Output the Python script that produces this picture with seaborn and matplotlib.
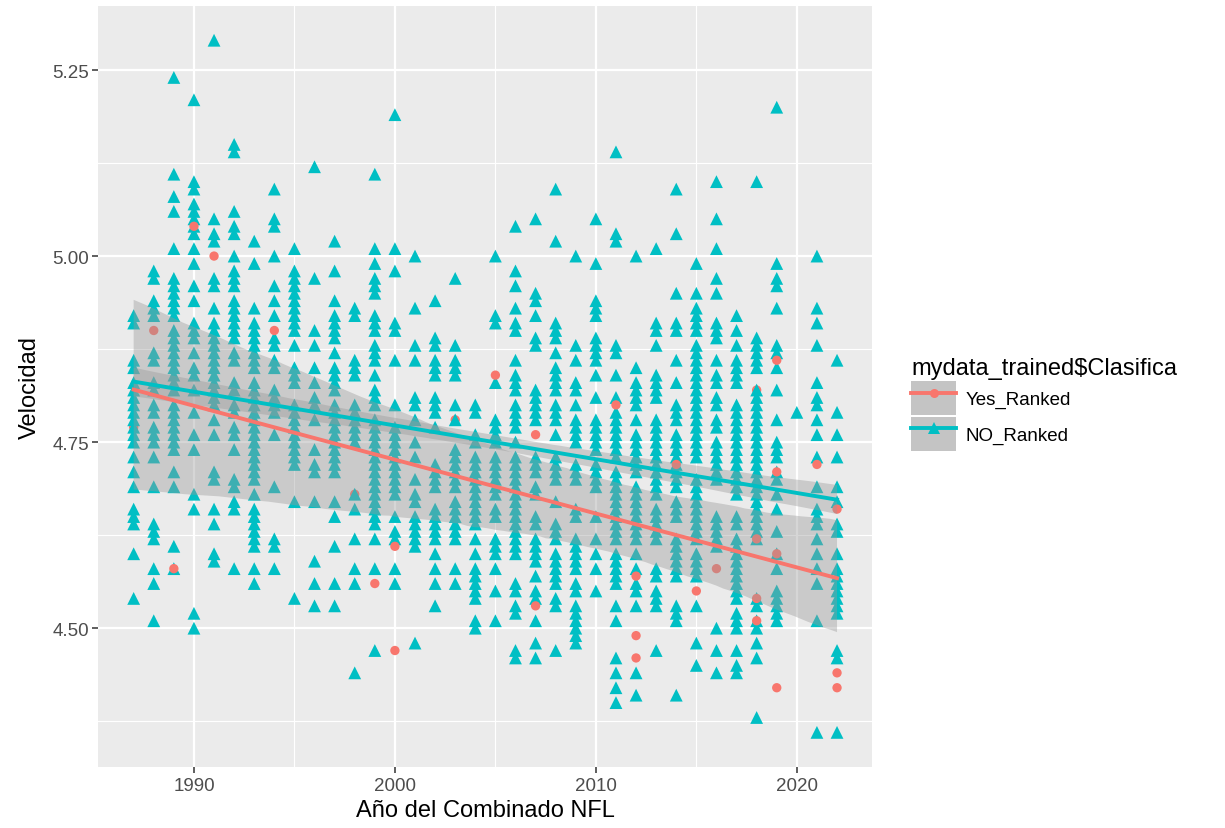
import matplotlib
matplotlib.use("Agg")
import matplotlib.pyplot as plt
from matplotlib.lines import Line2D
from matplotlib.patches import Patch
from matplotlib.collections import PolyCollection
from matplotlib.ticker import FixedLocator, FormatStrFormatter
import seaborn as sns
import pandas as pd

# 40 yd times, stored as hundredths above 4 s (92 -> 4.92)
years = list(range(1987, 2023))
no_1987 = [92, 91, 86, 85, 83, 82, 81, 80, 79, 78, 77, 76, 75, 73, 71, 69, 66, 65, 64, 60, 54]
no_1988 = [98, 97, 94, 93, 92, 87, 86, 83, 82, 80, 79, 77, 76, 75, 73, 69, 64, 63, 62, 58, 56, 51]
no_1989 = [124, 111, 108, 106, 101, 97, 96, 95, 94, 93, 92, 90, 89, 88, 87, 86, 85, 84, 83, 82,
           80, 79, 78, 77, 76, 75, 74, 71, 69, 61, 58]
no_1990 = [121, 110, 109, 107, 106, 105, 104, 103, 101, 99, 96, 94, 91, 90, 89, 87, 85, 84, 82,
           79, 76, 74, 68, 66, 52, 50]
no_1991 = [129, 105, 103, 102, 97, 96, 93, 91, 90, 89, 88, 87, 86, 85, 84, 83, 82, 81, 80, 78,
           76, 71, 70, 66, 64, 60, 59]
no_1992 = [115, 114, 106, 104, 103, 100, 98, 97, 96, 94, 93, 92, 91, 90, 89, 87, 86, 83, 82, 80,
           79, 77, 76, 74, 70, 69, 67, 66, 58]
no_1993 = [102, 99, 93, 91, 90, 89, 88, 87, 86, 85, 83, 82, 81, 80, 79, 78, 77, 76, 75, 74, 73,
           72, 71, 70, 68, 66, 65, 64, 63, 62, 61, 58, 56]
no_1994 = [109, 105, 104, 100, 96, 94, 92, 89, 88, 86, 85, 82, 81, 80, 79, 76, 69, 62, 61, 58]
no_1995 = [101, 98, 97, 96, 95, 94, 93, 92, 91, 90, 88, 85, 84, 83, 80, 79, 78, 77, 76, 75, 74,
           73, 72, 67, 54]
no_1996 = [112, 97, 90, 88, 85, 83, 81, 80, 78, 74, 72, 71, 67, 59, 56, 53]
no_1997 = [102, 98, 94, 92, 91, 90, 89, 87, 85, 84, 83, 82, 80, 79, 78, 77, 76, 75, 74, 73, 72,
           71, 67, 65, 61, 56, 53]
no_1998 = [93, 92, 86, 85, 84, 80, 79, 78, 77, 76, 75, 68, 66, 62, 58, 56, 44]
no_1999 = [111, 101, 99, 97, 96, 95, 92, 91, 90, 88, 87, 86, 84, 82, 81, 80, 78, 77, 76, 75, 74,
           73, 72, 71, 70, 69, 68, 67, 66, 65, 64, 62, 58, 47]
no_2000 = [119, 101, 98, 91, 90, 86, 80, 77, 76, 75, 74, 73, 72, 71, 70, 69, 68, 65, 63, 62, 58, 56]
no_2001 = [100, 93, 88, 86, 81, 80, 78, 75, 73, 70, 68, 67, 65, 64, 63, 62, 61, 48]
no_2002 = [94, 89, 88, 86, 85, 84, 81, 80, 79, 77, 72, 71, 70, 69, 66, 65, 64, 63, 62, 60, 58, 56, 53]
no_2003 = [97, 88, 86, 85, 84, 80, 78, 74, 73, 72, 71, 70, 69, 67, 66, 65, 64, 63, 62, 58, 56]
no_2004 = [80, 79, 76, 75, 73, 72, 71, 70, 69, 68, 67, 66, 65, 64, 62, 60, 58, 57, 56, 55, 54, 51, 50]
no_2005 = [100, 92, 91, 83, 78, 77, 76, 75, 73, 72, 71, 70, 69, 68, 66, 65, 62, 61, 60, 58, 55, 51]
no_2006 = [104, 98, 96, 93, 91, 90, 86, 84, 83, 82, 80, 79, 78, 77, 75, 73, 72, 71, 70, 69, 68,
           67, 66, 65, 64, 63, 62, 61, 60, 56, 55, 53, 52, 47, 46]
no_2007 = [105, 95, 94, 92, 89, 88, 82, 81, 80, 79, 78, 73, 72, 71, 69, 68, 65, 64, 62, 61, 60,
           59, 57, 55, 54, 51, 48, 46]
no_2008 = [109, 102, 91, 90, 89, 87, 85, 84, 83, 82, 80, 79, 78, 76, 73, 72, 71, 70, 67, 64, 63,
           62, 60, 59, 58, 57, 56, 54, 53, 47]
no_2009 = [100, 88, 86, 83, 82, 80, 78, 77, 76, 75, 72, 71, 70, 66, 65, 62, 61, 60, 59, 58, 56,
           55, 53, 52, 51, 50, 49, 48]
no_2010 = [105, 99, 94, 93, 92, 89, 88, 87, 86, 84, 81, 78, 77, 76, 75, 74, 72, 71, 70, 69, 65,
           62, 60, 58, 55]
no_2011 = [114, 103, 102, 88, 87, 84, 81, 79, 78, 77, 76, 75, 74, 73, 71, 70, 69, 68, 67, 66, 65,
           64, 63, 62, 60, 59, 58, 57, 56, 53, 51, 46, 44, 42, 40]
no_2012 = [100, 85, 83, 82, 81, 80, 78, 76, 75, 74, 73, 72, 71, 69, 68, 67, 66, 65, 64, 63, 62,
           60, 58, 56, 55, 53, 44, 41]
no_2013 = [101, 91, 90, 88, 84, 83, 82, 81, 78, 77, 76, 75, 74, 73, 72, 71, 70, 69, 68, 66, 65,
           64, 63, 62, 58, 57, 55, 54, 53, 47]
no_2014 = [109, 103, 95, 91, 90, 86, 83, 80, 79, 78, 76, 75, 74, 73, 72, 71, 70, 69, 67, 66, 65,
           62, 61, 60, 59, 58, 57, 53, 52, 51, 41]
no_2015 = [99, 95, 93, 92, 91, 90, 88, 87, 86, 85, 84, 83, 82, 81, 80, 79, 78, 77, 76, 75, 74,
           73, 70, 69, 68, 67, 66, 65, 64, 63, 62, 60, 59, 58, 57, 53, 48, 45]
no_2016 = [110, 105, 101, 97, 95, 91, 90, 89, 86, 84, 83, 81, 80, 78, 77, 75, 74, 73, 72, 71, 70,
           65, 64, 63, 62, 61, 50, 47, 44]
no_2017 = [92, 90, 88, 86, 85, 84, 83, 80, 79, 78, 77, 76, 75, 74, 73, 72, 71, 70, 69, 68, 65,
           64, 62, 61, 60, 59, 58, 57, 56, 55, 54, 52, 51, 50, 47, 45, 44]
no_2018 = [110, 89, 88, 87, 86, 85, 82, 81, 80, 79, 78, 77, 76, 75, 74, 73, 72, 71, 70, 69, 68,
           67, 66, 65, 64, 63, 62, 54, 53, 51, 50, 48, 46, 38]
no_2019 = [120, 99, 97, 96, 93, 88, 87, 85, 82, 78, 75, 74, 73, 71, 70, 68, 66, 63, 60, 58, 55,
           54, 53, 52, 51]
no_2020 = [79]
no_2021 = [100, 93, 91, 88, 83, 81, 80, 78, 76, 73, 69, 66, 65, 64, 62, 60, 58, 56, 51, 36]
no_2022 = [86, 79, 76, 73, 69, 67, 64, 63, 60, 58, 57, 56, 55, 54, 53, 52, 47, 46, 36]

no_columns = [no_1987, no_1988, no_1989, no_1990, no_1991, no_1992, no_1993, no_1994, no_1995,
              no_1996, no_1997, no_1998, no_1999, no_2000, no_2001, no_2002, no_2003, no_2004,
              no_2005, no_2006, no_2007, no_2008, no_2009, no_2010, no_2011, no_2012, no_2013,
              no_2014, no_2015, no_2016, no_2017, no_2018, no_2019, no_2020, no_2021, no_2022]

# ranked players partly hidden under the triangles
yes_under_year = [1987, 1998, 2003, 2018]
yes_under_speed = [4.77, 4.68, 4.78, 4.82]
# ranked players drawn on top
yes_year = [1988, 1989, 1990, 1991, 1994, 1999, 2000, 2000, 2005, 2007, 2007, 2011, 2012, 2012,
            2012, 2014, 2015, 2016, 2018, 2018, 2018, 2019, 2019, 2019, 2019, 2021, 2022, 2022, 2022]
yes_speed = [4.90, 4.58, 5.04, 5.00, 4.90, 4.56, 4.61, 4.47, 4.84, 4.76, 4.53, 4.80, 4.57, 4.49,
             4.46, 4.72, 4.55, 4.58, 4.62, 4.54, 4.51, 4.86, 4.71, 4.60, 4.42, 4.72, 4.66, 4.44, 4.42]

RED = '#F8766D'
TEAL = '#00BFC4'

rows = []
for yr, sp in zip(yes_under_year, yes_under_speed):
    rows.append((yr, sp, 'Yes_Ranked'))
for yr, col in zip(years, no_columns):
    for h in col:
        rows.append((yr, round(4 + h / 100, 2), 'NO_Ranked'))
for yr, sp in zip(yes_year, yes_speed):
    rows.append((yr, sp, 'Yes_Ranked'))
df = pd.DataFrame(rows, columns=['anio', 'vel', 'clas'])

plt.rcParams['font.family'] = ['Liberation Sans', 'DejaVu Sans']

fig = plt.figure(figsize=(12.25, 8.29), dpi=100)
ax = fig.add_axes([0.0804, 0.0736, 0.6316, 0.9184])
ax.set_facecolor('#EBEBEB')

sns.scatterplot(data=df, x='anio', y='vel', hue='clas', style='clas', size='clas',
                hue_order=['Yes_Ranked', 'NO_Ranked'],
                palette={'Yes_Ranked': RED, 'NO_Ranked': TEAL},
                markers={'Yes_Ranked': 'o', 'NO_Ranked': '^'},
                sizes={'Yes_Ranked': 45, 'NO_Ranked': 85},
                linewidth=0, legend=False, ax=ax)

n_before = len(ax.collections)
for cls, color in [('Yes_Ranked', RED), ('NO_Ranked', TEAL)]:
    sub = df[df['clas'] == cls]
    sns.regplot(data=sub, x='anio', y='vel', scatter=False, color=color, ci=95, seed=3,
                line_kws={'lw': 2.8}, ax=ax)

# ggplot style grey ribbon
for c in ax.collections[n_before:]:
    if isinstance(c, PolyCollection):
        c.set_alpha(None)
        c.set_facecolor((0.6, 0.6, 0.6, 0.4))
        c.set_edgecolor('none')

ax.set_xlim(1985.25, 2023.75)
ax.set_ylim(4.3135, 5.3365)
ax.xaxis.set_major_locator(FixedLocator([1990, 2000, 2010, 2020]))
ax.xaxis.set_minor_locator(FixedLocator([1995, 2005, 2015]))
ax.yaxis.set_major_locator(FixedLocator([4.50, 4.75, 5.00, 5.25]))
ax.yaxis.set_minor_locator(FixedLocator([4.375, 4.625, 4.875, 5.125]))
ax.yaxis.set_major_formatter(FormatStrFormatter('%.2f'))
ax.grid(which='major', color='white', lw=1.6)
ax.grid(which='minor', color='white', lw=0.8)
ax.set_axisbelow(True)
for s in ax.spines.values():
    s.set_visible(False)
ax.tick_params(which='major', length=4, width=1.1, color='#333333', labelcolor='#4D4D4D',
               labelsize=13.5, pad=3)
ax.tick_params(which='minor', length=0)

ax.set_xlabel('Año del Combinado NFL', fontsize=17, labelpad=4)
ax.set_ylabel('Velocidad', fontsize=17, labelpad=8)

handles = [
    (Patch(facecolor='#C4C4C4', edgecolor='none'),
     Line2D([], [], color=RED, lw=2.8, marker='o', ms=6.5, mew=0)),
    (Patch(facecolor='#C4C4C4', edgecolor='none'),
     Line2D([], [], color=TEAL, lw=2.8, marker='^', ms=9, mew=0)),
]
leg = fig.legend(handles, ['Yes_Ranked', 'NO_Ranked'], title=r'mydata_trained\$Clasifica',
                 loc='center left', bbox_to_anchor=(902 / 1225, 1 - 405 / 829), frameon=False,
                 fontsize=13.5, title_fontsize=17, handlelength=2.4, handleheight=2.4,
                 labelspacing=0.1, handletextpad=0.5, borderpad=0, alignment='left')

fig.savefig('out.png', dpi=100)
